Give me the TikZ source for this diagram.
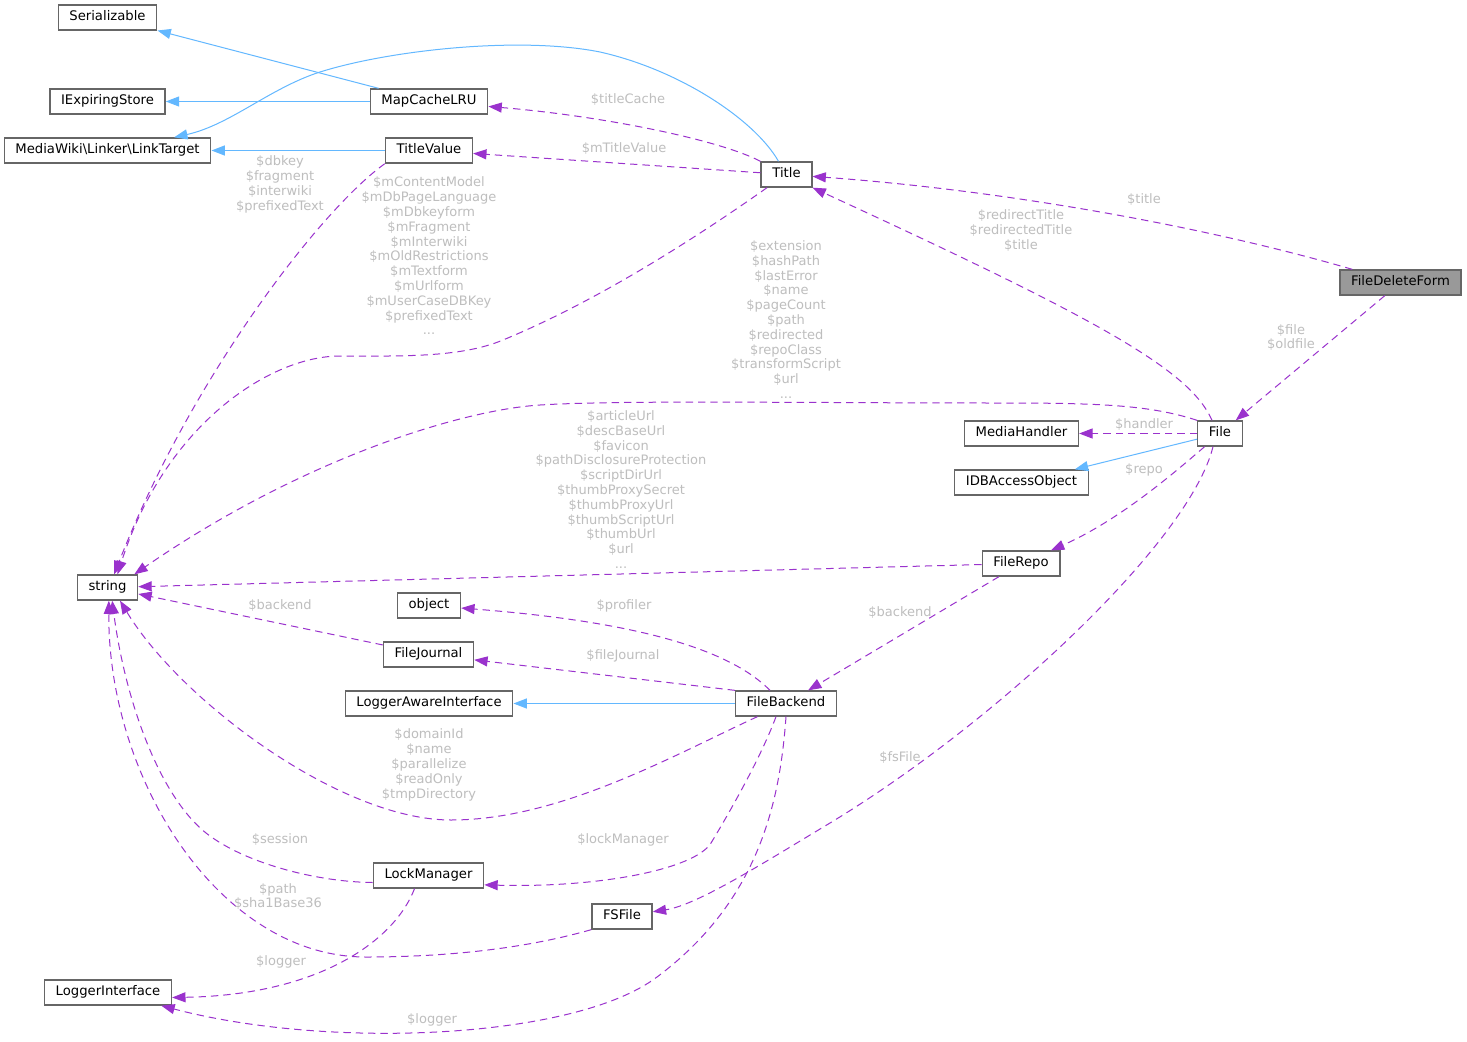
\documentclass[tikz,border=0pt]{standalone}
\usepackage{fontspec}
\setmainfont{DejaVu Sans}
\usetikzlibrary{arrows.meta, positioning}
\definecolor{edgepurple}{HTML}{9A32CD}
\definecolor{inhblue}{HTML}{63B8FF}
\definecolor{boxgray}{HTML}{666666}
\definecolor{rootgray}{HTML}{999999}
\definecolor{lblgray}{HTML}{BEBEBE}

\begin{document}
\begin{tikzpicture}[
    x=0.75pt, y=-0.75pt,
    cls/.style     = {draw=boxgray, line width=1pt, fill=white,
                      minimum height=18.75pt, inner xsep=8.4pt, inner ysep=0pt,
                      text height=7.2pt, text depth=2pt,
                      font=\fontsize{9.9}{11.1}\selectfont},
    lbl/.style     = {text=lblgray, align=center, inner sep=0pt,
                      font=\fontsize{9.75}{11.1}\selectfont},
    member/.style  = {-{Triangle[length=10pt, width=7.5pt]}, edgepurple,
                      line width=0.75pt, dash pattern=on 5.5pt off 3.75pt},
    inherit/.style = {-{Triangle[length=10pt, width=7.5pt]}, inhblue,
                      line width=0.75pt}
  ]
  \fill[white] (0,0) rectangle (1467,1042);
  \useasboundingbox (0,0) rectangle (1467,1042);

  \node[cls] (serializable)    at (107.5,17.5)  {Serializable};
  \node[cls] (iexpiring)       at (107.5,101.5) {IExpiringStore};
  \node[cls] (linktarget)      at (107.5,150.5) {MediaWiki\textbackslash Linker\textbackslash LinkTarget};
  \node[cls] (mapcache)        at (429,101.5)   {MapCacheLRU};
  \node[cls] (titlevalue)      at (429,150.5)   {TitleValue};
  \node[cls] (title)           at (786.5,174.5) {Title};
  \node[cls, fill=rootgray] (filedeleteform) at (1400.5,282.5) {FileDeleteForm};
  \node[cls] (file)            at (1220,433.5)  {File};
  \node[cls] (mediahandler)    at (1021.5,433.5) {MediaHandler};
  \node[cls] (idbaccess)       at (1021.5,482.5) {IDBAccessObject};
  \node[cls] (filerepo)        at (1021,563.5)  {FileRepo};
  \node[cls] (string)          at (107.5,587.5) {string};
  \node[cls] (object)          at (429,605.5)   {object};
  \node[cls] (filejournal)     at (428.5,654.5) {FileJournal};
  \node[cls] (loggeraware)     at (429,703.5)   {LoggerAwareInterface};
  \node[cls] (filebackend)     at (786,703.5)   {FileBackend};
  \node[cls] (lockmanager)     at (428.5,875.5) {LockManager};
  \node[cls] (fsfile)          at (622,916.5)   {FSFile};
  \node[cls] (loggerinterface) at (108,992.5)   {LoggerInterface};

  \draw[inherit] (mapcache)   -- (serializable);
  \draw[inherit] (mapcache)   -- (iexpiring);
  \draw[inherit] (titlevalue) -- (linktarget);
  \draw[inherit] ([xshift=-6pt]title.north) .. controls (755,120) and (680,70) .. (600,52)
                 .. controls (520,36) and (390,50) .. (320,72)
                 .. controls (270,88) and (230,125) .. ([xshift=50pt]linktarget.north);
  \draw[inherit] (file)        -- (idbaccess);
  \draw[inherit] (filebackend) -- (loggeraware);

  \draw[member] (title.north west) .. controls (720,140) and (603,116) .. (mapcache);
  \draw[member] (title) -- (titlevalue);
  \draw[member] ([xshift=-14.6pt]title.south) .. controls (700,235) and (600,300) .. (503,340)
                .. controls (460,358) and (400,356) .. (340,356)
                .. controls (270,356) and (165,425) .. ([xshift=7.5pt]string.north);
  \draw[member] (titlevalue.south west) .. controls (320,210) and (190,380) .. ([xshift=5pt]string.north);
  \draw[member] ([xshift=9.75pt]filedeleteform.north west) .. controls (1200,225) and (1000,190) .. (title);
  \draw[member] (filedeleteform) -- (file);
  \draw[member] ([xshift=-6pt]file.north) .. controls (1190,370) and (1100,320) .. (title.south east);
  \draw[member] (file.north west) .. controls (1150,405) and (1100,403) .. (1000,403)
                .. controls (800,403) and (620,400) .. (540,405)
                .. controls (460,410) and (300,460) .. ([xshift=-3pt]string.north east);
  \draw[member] (file) -- (mediahandler);
  \draw[member] (file) .. controls (1175,472) and (1120,520) .. (filerepo);
  \draw[member] ([xshift=-5.25pt]file.south) .. controls (1190,540) and (1000,720) .. (830,823)
                .. controls (760,865) and (697,905) .. (fsfile);
  \draw[member] (filerepo) -- (string);
  \draw[member] (filerepo) -- (filebackend);
  \draw[member] ([xshift=-12pt]filebackend.north) .. controls (730,650) and (640,622) .. (object);
  \draw[member] (filebackend.north west) -- (filejournal);
  \draw[member] (filebackend) .. controls (674,755) and (560,820) .. (451,820)
                .. controls (340,820) and (180,700) .. ([xshift=9.4pt]string.south);
  \draw[member] ([xshift=-7.5pt]filebackend.south) .. controls (760,760) and (725,820) .. (711,843)
                .. controls (695,869) and (600,888) .. ([yshift=-7pt]lockmanager.east);
  \draw[member] (filebackend.south) .. controls (780,800) and (760,900) .. (657,977)
                .. controls (575,1039) and (330,1050) .. ([xshift=40pt]loggerinterface.south);
  \draw[member] (filejournal) -- (string);
  \draw[member] ([yshift=-5.25pt]lockmanager.west) .. controls (320,882) and (250,865) .. (210,836)
                .. controls (160,800) and (125,700) .. ([xshift=3.5pt]string.south);
  \draw[member] ([xshift=-10.5pt]lockmanager.south) .. controls (395,940) and (320,995) .. ([yshift=-3.75pt]loggerinterface.east);
  \draw[member] (fsfile.south west) .. controls (520,950) and (440,957) .. (366,957)
                .. controls (220,957) and (108,780) .. ([xshift=1pt]string.south);

  \node[lbl] (l-titlecache)   at (628,100)    {\$titleCache};
  \node[lbl] (l-mtitlevalue)  at (624,149)    {\$mTitleValue};
  \node[lbl] (l-dbkey)        at (280,184.5)  {\$dbkey\\\$fragment\\\$interwiki\\\$prefixedText};
  \node[lbl] (l-mcontent)     at (429,256)    {\$mContentModel\\\$mDbPageLanguage\\\$mDbkeyform\\\$mFragment\\\$mInterwiki\\\$mOldRestrictions\\\$mTextform\\\$mUrlform\\\$mUserCaseDBKey\\\$prefixedText\\...};
  \node[lbl] (l-title)        at (1144,200)   {\$title};
  \node[lbl] (l-redirect)     at (1021,230.5) {\$redirectTitle\\\$redirectedTitle\\\$title};
  \node[lbl] (l-extension)    at (786,319.5)  {\$extension\\\$hashPath\\\$lastError\\\$name\\\$pageCount\\\$path\\\$redirected\\\$repoClass\\\$transformScript\\\$url\\...};
  \node[lbl] (l-file)         at (1291,337.5) {\$file\\\$oldfile};
  \node[lbl] (l-handler)      at (1144,425)   {\$handler};
  \node[lbl] (l-repo)         at (1144,470)   {\$repo};
  \node[lbl] (l-articleurl)   at (621,489.5)  {\$articleUrl\\\$descBaseUrl\\\$favicon\\\$pathDisclosureProtection\\\$scriptDirUrl\\\$thumbProxySecret\\\$thumbProxyUrl\\\$thumbScriptUrl\\\$thumbUrl\\\$url\\...};
  \node[lbl] (l-backend)      at (900,613)    {\$backend};
  \node[lbl] (l-jbackend)     at (280,606)    {\$backend};
  \node[lbl] (l-profiler)     at (624,606)    {\$profiler};
  \node[lbl] (l-filejournal)  at (623,656)    {\$fileJournal};
  \node[lbl] (l-domainid)     at (429,765)    {\$domainId\\\$name\\\$parallelize\\\$readOnly\\\$tmpDirectory};
  \node[lbl] (l-fsfile)       at (900,758)    {\$fsFile};
  \node[lbl] (l-session)      at (280,840)    {\$session};
  \node[lbl] (l-lockmanager)  at (623,840)    {\$lockManager};
  \node[lbl] (l-path)         at (278,896.5)  {\$path\\\$sha1Base36};
  \node[lbl] (l-lmlogger)     at (281,962)    {\$logger};
  \node[lbl] (l-fblogger)     at (432,1020)   {\$logger};
\end{tikzpicture}
\end{document}
